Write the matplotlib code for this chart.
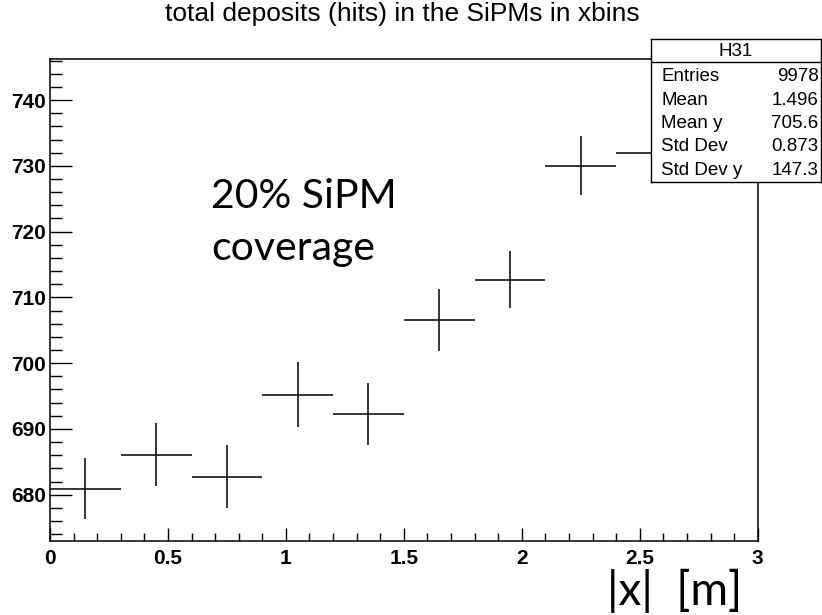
"""
Profile of the total SiPM deposits (hits) in bins of |x|, ROOT TProfile look.
"""

import matplotlib.pyplot as plt
from matplotlib.ticker import MultipleLocator

# profile bins (|x| in m) and the mean hits per bin
x_centers = [0.15, 0.45, 0.75, 1.05, 1.35, 1.65, 1.95, 2.25, 2.55, 2.85]
x_halfwidth = [0.15] * 10
mean_hits = [680.9, 686.1, 682.7, 695.2, 692.3, 706.5, 712.7, 730.0, 731.9, 737.0]
err_hits = [4.6, 4.8, 4.8, 4.9, 4.7, 4.7, 4.3, 4.5, 4.5, 4.6]

# stats box content
stats_name = "H31"
stats_labels = ["Entries", "Mean", "Mean y", "Std Dev", "Std Dev y"]
stats_values = ["9978", "1.496", "705.6", "0.873", "147.3"]

TITLE = "total deposits (hits) in the SiPMs in xbins"

W, H = 822, 615


def fx(px):
    return px / W


def fy(py):
    # pixel rows counted from the top
    return 1 - py / H


fig = plt.figure(figsize=(W / 100, H / 100), dpi=100)
ax = fig.add_axes([fx(50), fy(540.7), fx(757.7 - 50), (540.7 - 59.3) / H])

ax.errorbar(x_centers, mean_hits, xerr=x_halfwidth, yerr=err_hits,
            fmt="none", ecolor="black", elinewidth=1.1, capsize=0)

ax.set_xlim(0, 3)
ax.set_ylim(673.0, 746.2)

ax.xaxis.set_major_locator(MultipleLocator(0.5))
ax.xaxis.set_minor_locator(MultipleLocator(0.1))
ax.yaxis.set_major_locator(MultipleLocator(10))
ax.yaxis.set_minor_locator(MultipleLocator(2))
ax.xaxis.set_major_formatter(lambda v, pos: f"{v:g}")

ax.tick_params(axis="both", which="both", direction="in", width=1.0,
               top=False, right=False)
ax.tick_params(axis="x", which="major", length=9.5, pad=6)
ax.tick_params(axis="x", which="minor", length=5.8)
ax.tick_params(axis="y", which="major", length=15.5, pad=3)
ax.tick_params(axis="y", which="minor", length=8.4)
for lab in ax.get_xticklabels() + ax.get_yticklabels():
    lab.set_fontfamily("Liberation Sans")
    lab.set_fontweight("bold")
    lab.set_fontsize(15)
for sp in ax.spines.values():
    sp.set_linewidth(1.1)

fig.text(0.49, fy(14), TITLE, ha="center", va="center",
         family="Liberation Sans", fontsize=19)

# annotations pasted on top of the canvas
fig.text(fx(211), fy(207.5), "20% SiPM", ha="left", va="baseline",
         family="Lato", fontsize=29.5)
fig.text(fx(211), fy(260), "coverage", ha="left", va="baseline",
         family="Lato", fontsize=29.5)
fig.text(fx(742), fy(605), "|x|  [m]", ha="right", va="baseline",
         family="Lato", fontsize=33)

# stats box, sits over the last bins like in ROOT
sbox = fig.add_axes([fx(651), fy(181.7), fx(821 - 651), (181.7 - 39.3) / H])
sbox.set_xlim(0, 1)
sbox.set_ylim(181.7, 39.3)
sbox.set_xticks([])
sbox.set_yticks([])
sbox.set_facecolor("white")
for sp in sbox.spines.values():
    sp.set_linewidth(1.0)
sbox.axhline(62.3, color="black", lw=1.0)
sbox.text(0.5, 51, stats_name, ha="center", va="center",
          family="Liberation Sans", fontsize=13.5)
row_y = [76.7, 100.5, 123.3, 146.7, 170.2]
for ry, lab, val in zip(row_y, stats_labels, stats_values):
    sbox.text(0.06, ry, lab, ha="left", va="center",
              family="Liberation Sans", fontsize=13.5)
    sbox.text(0.985, ry, val, ha="right", va="center",
              family="Liberation Sans", fontsize=13.5)

fig.savefig("out.png", dpi=100)
